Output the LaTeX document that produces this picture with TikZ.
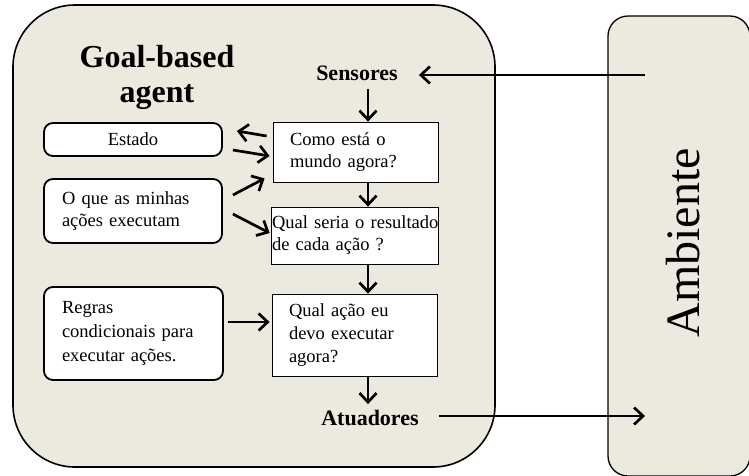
\documentclass[tikz,border=0pt]{standalone}
\usepackage{fontspec}
\setmainfont{Liberation Serif}
\usetikzlibrary{arrows.meta,calc}
\definecolor{panel}{RGB}{236,233,223}
\begin{document}
\begin{tikzpicture}[x=1pt,y=-1pt,
  agentbox/.style={draw, line width=1.6pt, fill=panel, rounded corners=62pt, inner sep=0pt},
  envbox/.style={draw, line width=1.3pt, fill=panel, rounded corners=20pt, inner sep=0pt},
  memo/.style={draw, line width=1.8pt, fill=white, rounded corners=9pt, inner sep=0pt, align=left},
  stagebox/.style={draw, line width=0.8pt, fill=white, inner sep=0pt, align=left},
  body/.style={font=\fontsize{18.5}{22}\selectfont},
  heading/.style={font=\fontsize{22}{26}\selectfont\bfseries, inner sep=0pt},
  flow/.style={line width=2.7pt, -{Straight Barb[length=9pt,width=17pt]}},
]
\useasboundingbox (0,0) rectangle (749,475);

% outer panels
\node[agentbox, minimum width=482pt, minimum height=462pt] (agent) at (254,236) {};
\node[envbox, minimum width=142pt, minimum height=460pt] (env) at (679,246) {};
\node[font=\fontsize{48}{48}\selectfont, rotate=90, inner sep=0pt] (envlabel) at (683,243) {Ambiente};

% agent title and interface labels
\node[font=\fontsize{32}{35}\selectfont\bfseries, align=center, inner sep=0pt] (title) at (157,77) {Goal-based\\agent};
\node[heading] (sensores) at (357,73) {Sensores};
\node[heading] (atuadores) at (370,418) {Atuadores};

% knowledge boxes
\node[memo, body, minimum width=178pt, minimum height=33pt] (estado) at (133,139.5) {Estado};
\node[memo, body, minimum width=178pt, minimum height=64pt, text width=142pt] (acoes) at (133,211) {O que as minhas\\ações executam};
\node[memo, body, font=\fontsize{18.5}{24}\selectfont, minimum width=179pt, minimum height=93pt, text width=143pt] (regras) at (133.5,333.5) {Regras\\condicionais para\\executar ações.};

% reasoning stages
\node[stagebox, body, minimum width=165pt, minimum height=60pt, text width=131pt] (mundo) at (355.5,152) {Como está o\\mundo agora?};
\node[stagebox, body, minimum width=167pt, minimum height=57pt, text width=165pt] (resultado) at (354.5,235.5) {\mbox{Qual seria o resultado}\\de cada ação ?};
\node[stagebox, body, font=\fontsize{18.5}{23}\selectfont, minimum width=165pt, minimum height=82pt, text width=131pt] (decisao) at (354.5,335) {Qual ação eu\\devo executar\\agora?};

% vertical spine of the stage arrows
\coordinate (axis) at (368,0);
\draw[flow] ($(sensores.south -| axis)+(0,8)$) -- (mundo.north -| axis);
\draw[flow] (mundo.south -| axis) -- (resultado.north -| axis);
\draw[flow] (resultado.south -| axis) -- (decisao.north -| axis);
\draw[flow] (decisao.south -| axis) -- ($(atuadores.north -| axis)+(0,-6)$);

% links between knowledge and stages
\draw[flow] ($(mundo.west)+(-6,-16)$) -- ($(estado.east)+(14,-8.5)$);
\draw[flow] ($(estado.east)+(10,10.5)$) -- ($(mundo.west)+(-3,4)$);
\draw[flow] ($(acoes.east)+(10,-16)$) -- ($(mundo.south west)+(-8,-4)$);
\draw[flow] ($(acoes.east)+(10,3)$) -- ($(resultado.west)+(-1,-2.5)$);
\draw[flow] ($(regras.east)+(4,-11.5)$) -- ($(decisao.west)+(-2,-13)$);

% percepts in, actions out
\coordinate (envout) at (645,75);
\coordinate (envin) at (645,416);
\draw[flow] (envout) -- ($(sensores.east |- envout)+(21,0)$);
\draw[flow] ($(atuadores.east |- envin)+(20,0)$) -- (envin);
\end{tikzpicture}
\end{document}
